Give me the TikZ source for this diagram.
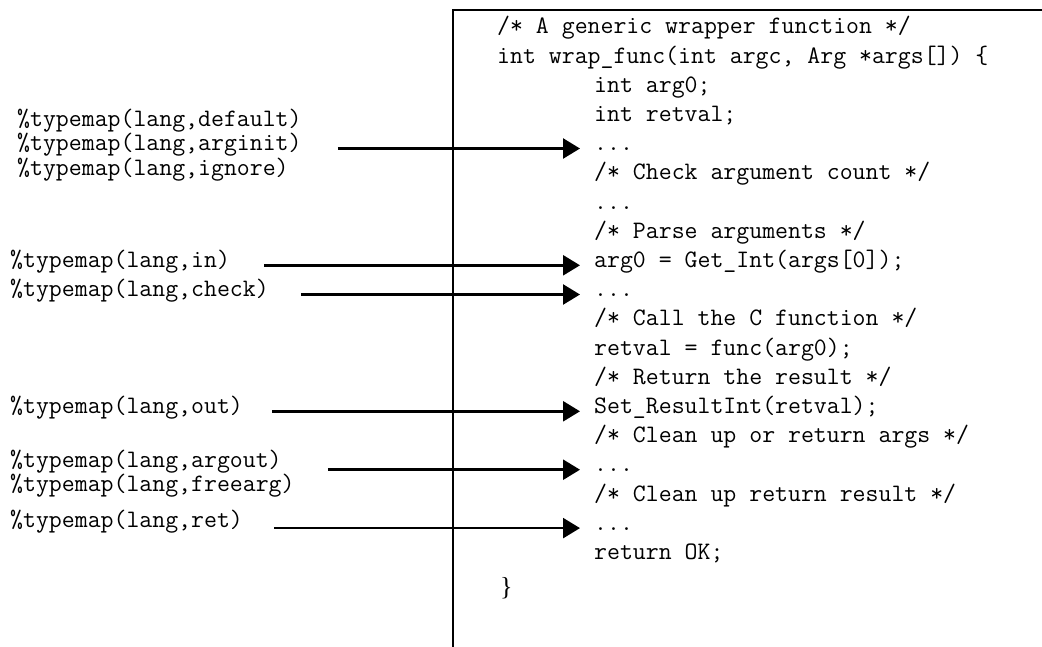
\documentclass[tikz,border=0pt]{standalone}
\usepackage{fontspec}
\newfontfamily\bracefont{Liberation Serif}
\usetikzlibrary{arrows.meta,calc}
\def\dd{...}

\begin{document}
\begin{tikzpicture}[x=1pt,y=-1pt,
  code/.style={anchor=mid west,inner sep=0pt,font=\fontsize{25.1}{28}\ttfamily},
  tmap/.style={anchor=mid west,inner sep=0pt,font=\fontsize{25.1}{28}\ttfamily},
  arr/.style={line width=2.5pt,-{Triangle[length=17pt,width=20pt]}}]
\useasboundingbox (0,0) rectangle (1042,646);
\draw[line width=2.5pt] (453,650) -- (453,10) -- (1046,10);

% wrapper code
\node[code] (c1) at (497,31.7) {/* A generic wrapper function */};
\node[code] (c2) at (497,60.9) {int wrap\_func(int argc, Arg *args[]) \{};
\foreach \txt [count=\i from 3] in {int arg0;,int retval;,\dd,{/* Check argument count */},\dd,
  {/* Parse arguments */},{arg0 = Get\_Int(args[0]);},\dd,{/* Call the C function */},
  {retval = func(arg0);},{/* Return the result */},{Set\_ResultInt(retval);},
  {/* Clean up or return args */},\dd,{/* Clean up return result */},\dd,{return OK;}}
  { \node[code] (c\i) at (594,{148.5+29.2*(\i-5)}) {\txt}; }
\node[code,font=\fontsize{26}{30}\bracefont] (c20) at (500,593) {\}};

% typemaps
\node[tmap] (tmdefault) at (17,124) {\%typemap(lang,default)};
\node[tmap] (tmarginit) at (17,148.5) {\%typemap(lang,arginit)};
\node[tmap] (tmignore) at (17,173) {\%typemap(lang,ignore)};
\node[tmap] (tmin) at (10,265.3) {\%typemap(lang,in)};
\node[tmap] (tmcheck) at (10,294.5) {\%typemap(lang,check)};
\node[tmap] (tmout) at (10,411.3) {\%typemap(lang,out)};
\node[tmap] (tmargout) at (10,465) {\%typemap(lang,argout)};
\node[tmap] (tmfreearg) at (10,489) {\%typemap(lang,freearg)};
\node[tmap] (tmret) at (10,525) {\%typemap(lang,ret)};

\draw[arr] ([xshift=36pt]tmarginit.east |- c5.mid west) -- ([xshift=-14pt]c5.mid west);
\draw[arr] ([xshift=34pt]tmin.east |- c9.mid west) -- ([xshift=-14pt]c9.mid west);
\draw[arr] ([xshift=32pt]tmcheck.east |- c10.mid west) -- ([xshift=-14pt]c10.mid west);
\draw[arr] ([xshift=29pt]tmout.east |- c14.mid west) -- ([xshift=-14pt]c14.mid west);
\draw[arr] ([xshift=33pt]tmfreearg.east |- c16.mid west) -- ([xshift=-14pt]c16.mid west);
\draw[arr] ([xshift=31pt]tmret.east |- c18.mid west) -- ([xshift=-14pt]c18.mid west);
\end{tikzpicture}
\end{document}
